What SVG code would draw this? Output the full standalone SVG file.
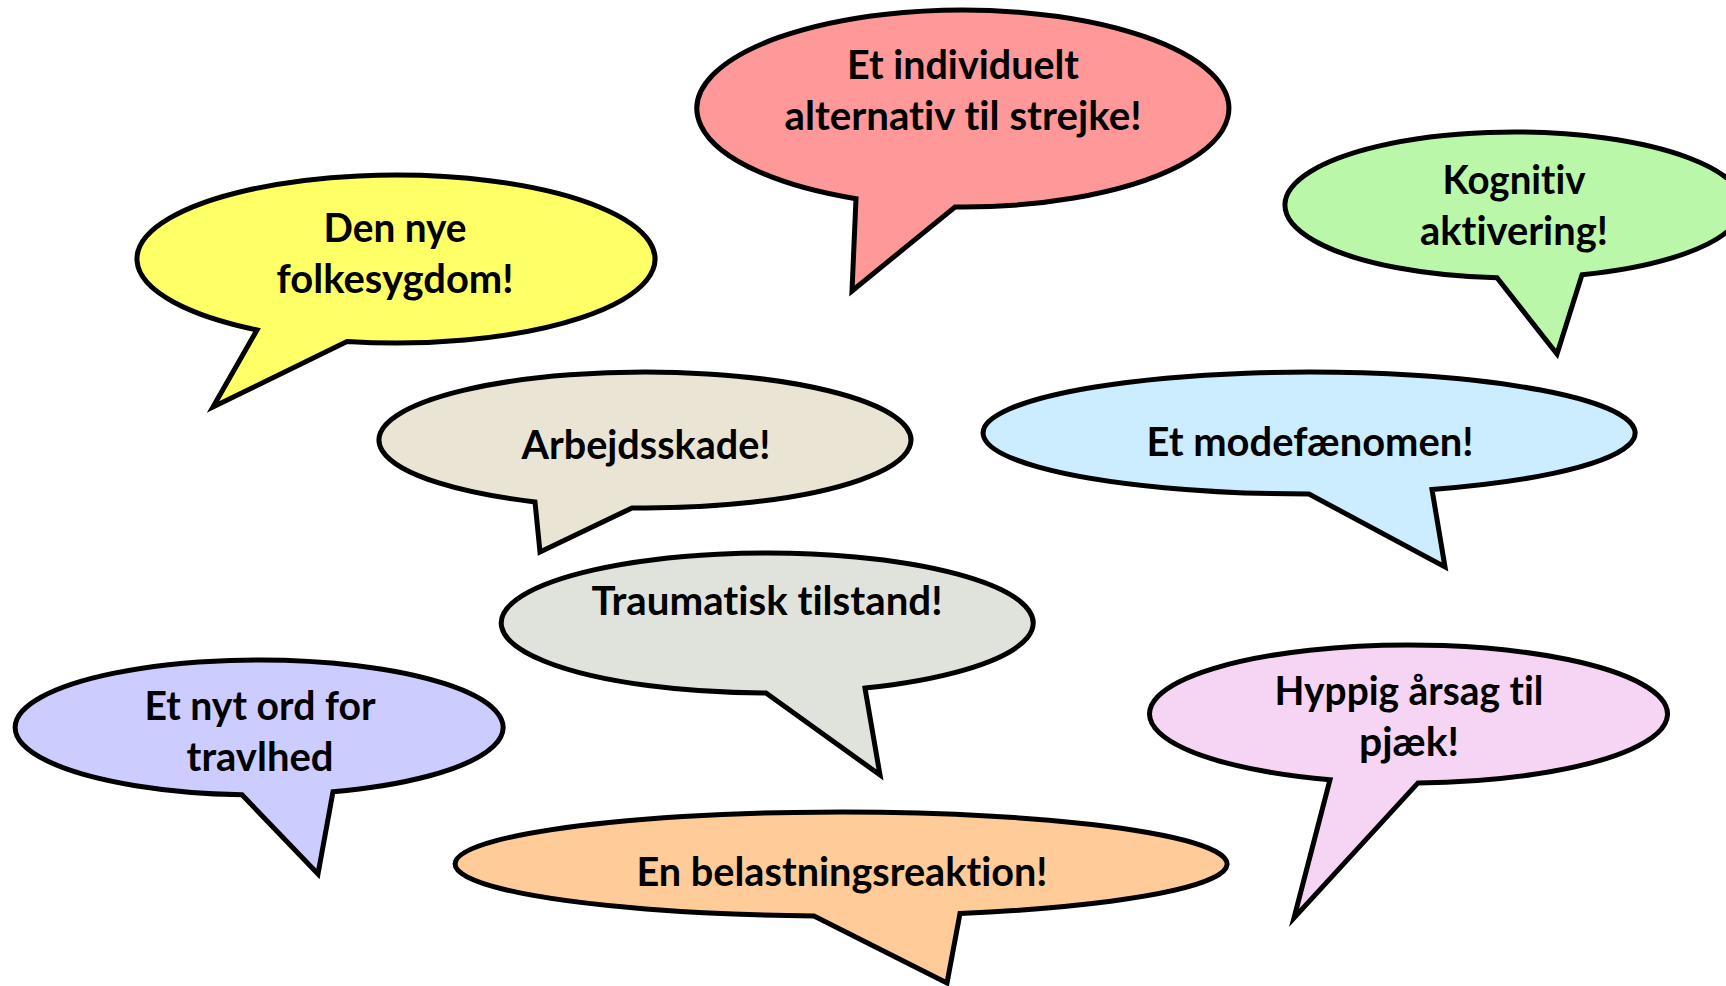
<svg xmlns="http://www.w3.org/2000/svg" width="1726" height="986" viewBox="0 0 1726 986">
  <style>
    .b { stroke: #000; stroke-width: 5; stroke-linejoin: miter; stroke-miterlimit: 10; }
    .t { font-family: Lato, "Open Sans", "Liberation Sans", sans-serif; font-weight: 700; font-size: 40px; fill: #000; text-anchor: middle; font-variant-ligatures: none; font-feature-settings: "liga" 0, "clig" 0, "dlig" 0; }
  </style>
  <rect width="1726" height="986" fill="#fff"/>
  <g id="connectors"/>

  <g id="bubble-strejke">
    <path class="b" fill="#FF9999" d="M955,206.96 A266,98.5 0 1 0 856,198.7 L852,291 Z"/>
    <text class="t" x="963" y="79" textLength="232" lengthAdjust="spacingAndGlyphs">Et individuelt</text>
    <text class="t" x="963" y="130" textLength="357" lengthAdjust="spacingAndGlyphs">alternativ til strejke!</text>
  </g>

  <g id="bubble-folkesygdom">
    <path class="b" fill="#FFFF66" d="M347,341.5 A259,84 0 1 0 257,329.9 L213,407 Z"/>
    <text class="t" x="395" y="242" textLength="143" lengthAdjust="spacingAndGlyphs">Den nye</text>
    <text class="t" x="395" y="293" textLength="237" lengthAdjust="spacingAndGlyphs">folkesygdom!</text>
  </g>

  <g id="bubble-kognitiv">
    <path class="b" fill="#BBF7A9" d="M1582,274.7 A229,73 0 1 0 1497,277.8 L1557,354 Z"/>
    <text class="t" x="1514" y="194" textLength="143" lengthAdjust="spacingAndGlyphs">Kognitiv</text>
    <text class="t" x="1514" y="245" textLength="188" lengthAdjust="spacingAndGlyphs">aktivering!</text>
  </g>

  <g id="bubble-arbejdsskade">
    <path class="b" fill="#EAE4D5" d="M632,507.9 A266,68 0 1 0 535,501.9 L540,552 Z"/>
    <text class="t" x="646" y="459" textLength="249" lengthAdjust="spacingAndGlyphs">Arbejdsskade!</text>
  </g>

  <g id="bubble-modefaenomen">
    <path class="b" fill="#CCECFF" d="M1432,489.5 A326,61 0 1 0 1309,494 L1445,567 Z"/>
    <text class="t" x="1310" y="456" textLength="327" lengthAdjust="spacingAndGlyphs">Et modefænomen!</text>
  </g>

  <g id="bubble-traumatisk">
    <path class="b" fill="#E0E3DC" d="M865,688.1 A266,70 0 1 0 766,693 L880,775 Z"/>
    <text class="t" x="767" y="615" textLength="351" lengthAdjust="spacingAndGlyphs">Traumatisk tilstand!</text>
  </g>

  <g id="bubble-travlhed">
    <path class="b" fill="#CCCCFF" d="M333,791.8 A244,67.5 0 1 0 242,794.8 L318,874 Z"/>
    <text class="t" x="260" y="720" textLength="231" lengthAdjust="spacingAndGlyphs">Et nyt ord for</text>
    <text class="t" x="260" y="771" textLength="147" lengthAdjust="spacingAndGlyphs">travlhed</text>
  </g>

  <g id="bubble-pjaek">
    <path class="b" fill="#F6D5F4" d="M1418,782.9 A259,69 0 1 0 1330,779.7 L1294,918 Z"/>
    <text class="t" x="1409" y="705" textLength="269" lengthAdjust="spacingAndGlyphs">Hyppig årsag til</text>
    <text class="t" x="1409" y="756" textLength="100" lengthAdjust="spacingAndGlyphs">pjæk!</text>
  </g>

  <g id="bubble-belastning">
    <path class="b" fill="#FFCC99" d="M960,913.5 A386,52 0 1 0 814,915.9 L947,983 Z"/>
    <text class="t" x="842" y="886" textLength="411" lengthAdjust="spacingAndGlyphs">En belastningsreaktion!</text>
  </g>
</svg>
